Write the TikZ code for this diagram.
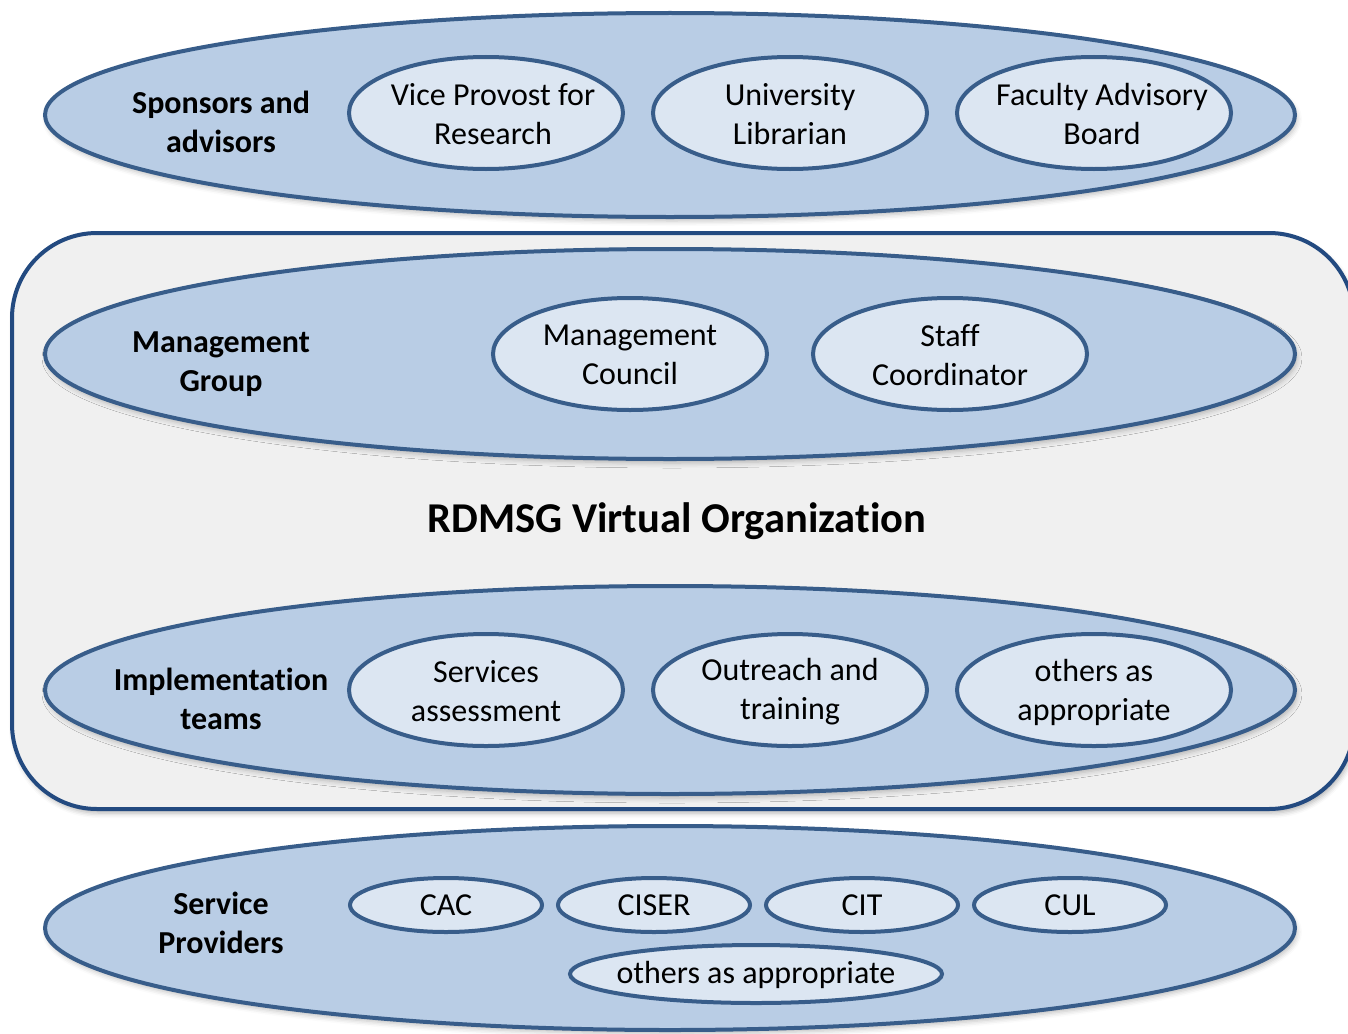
\documentclass[tikz,border=0pt]{standalone}
\usepackage{fontspec}
\setmainfont{Carlito}[Ligatures={NoCommon}]
\usetikzlibrary{shapes.geometric,shadows.blur}
\definecolor{outerfill}{HTML}{B9CDE5}
\definecolor{innerfill}{HTML}{DCE6F2}
\definecolor{ellline}{HTML}{385D8A}
\definecolor{rectline}{HTML}{234A80}
\definecolor{rectfill}{HTML}{F0F0F0}
\tikzset{
  bigell/.style={ellipse, draw=ellline, fill=outerfill, line width=4pt, inner sep=0pt,
    minimum width=1250pt, blur shadow={shadow xshift=2pt, shadow yshift=-4pt, shadow blur radius=5pt, shadow opacity=25}},
  smallell/.style={ellipse, draw=ellline, fill=innerfill, line width=4pt, inner sep=0pt,
    minimum width=274pt, minimum height=112pt},
  tinyell/.style={ellipse, draw=ellline, fill=innerfill, line width=4pt, inner sep=0pt,
    minimum width=192pt, minimum height=54pt},
  txt/.style={align=center, inner sep=0pt, font=\fontsize{32pt}{39pt}\selectfont},
  btxt/.style={txt, font=\fontsize{32pt}{39pt}\selectfont\bfseries},
  vobox/.style={draw=rectline, fill=rectfill, line width=4pt, rounded corners=85pt,
    blur shadow={shadow xshift=2pt, shadow yshift=-4pt, shadow blur radius=5pt, shadow opacity=30}}
}
\begin{document}
\begin{tikzpicture}[x=1pt, y=-1pt]
\useasboundingbox (0,0) rectangle (1348,1033);
% Virtual organization box
\node[vobox, minimum width=1342pt, minimum height=576pt, inner sep=0pt] (vo) at (683,521) {};
% Sponsors
\node[bigell, minimum height=204pt] (spons) at (670,115) {};
\node[btxt] (spt) at (221,122) {Sponsors and\\advisors};
\node[smallell] (vpr) at (486,113) {};
\node[txt] (vprt) at (493,114) {Vice Provost for\\Research};
\node[smallell] (ul) at (790,113) {};
\node[txt] (ult) at (790,114) {University\\Librarian};
\node[smallell] (fab) at (1094,113) {};
\node[txt] (fabt) at (1102,114) {Faculty Advisory\\Board};
% Management
\node[bigell, minimum height=210pt] (mg) at (670,354) {};
\node[btxt] (mgt) at (221,364) {Management\\Group};
\node[smallell] (mc) at (630,354) {};
\node[txt] (mct) at (630,355) {Management\\Council};
\node[smallell] (sc) at (950,354) {};
\node[txt] (sct) at (950,355) {Staff\\Coordinator};
% Title
\node[font=\fontsize{42.5pt}{50pt}\selectfont\bfseries, inner sep=0pt] (title) at (677,521) {RDMSG Virtual Organization};
% Implementation
\node[bigell, minimum height=208pt] (impl) at (670,690) {};
\node[btxt] (implt) at (221,699) {Implementation\\teams};
\node[smallell] (sa) at (486,690) {};
\node[txt] (sat) at (486,691) {Services\\assessment};
\node[smallell] (ot) at (790,690) {};
\node[txt] (ott) at (790,692) {Outreach and\\training};
\node[smallell] (oa) at (1094,690) {};
\node[txt] (oat) at (1094,692) {others as\\appropriate};
% Service providers
\node[bigell, minimum height=204pt] (sp) at (670,928) {};
\node[btxt] (spt2) at (221,923) {Service\\Providers};
\node[tinyell] (cac) at (446,905) {};
\node[txt] (cact) at (446,905) {CAC};
\node[tinyell] (ciser) at (654,905) {};
\node[txt] (cisert) at (654,905) {CISER};
\node[tinyell] (cit) at (862,905) {};
\node[txt] (citt) at (862,905) {CIT};
\node[tinyell] (cul) at (1070,905) {};
\node[txt] (cult) at (1070,905) {CUL};
\node[tinyell, minimum width=372pt, minimum height=58pt] (oth) at (756,974) {};
\node[txt] (otht) at (756,975) {others as appropriate};
\end{tikzpicture}
\end{document}
